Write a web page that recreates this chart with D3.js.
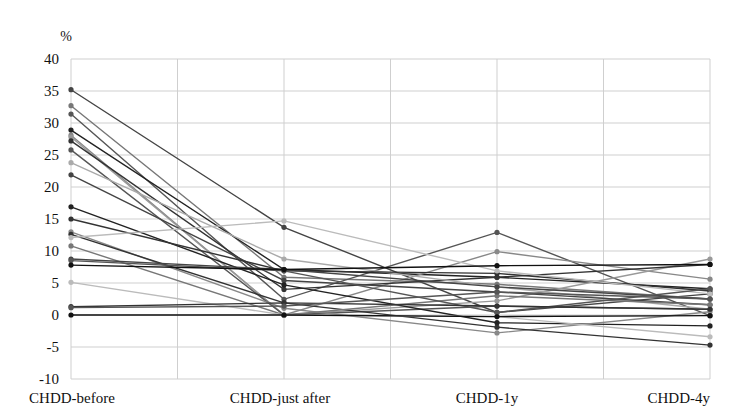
<!DOCTYPE html>
<html>
<head>
<meta charset="utf-8">
<script src="https://cdn.jsdelivr.net/npm/d3@7"></script>
<style>
  html, body { margin: 0; padding: 0; background: #fff; }
  text { font-family: "Liberation Serif", "DejaVu Serif", serif; }
</style>
</head>
<body>
<div id="chart"></div>
<script>
// categories and tick labels
const categories = ["CHDD-before", "CHDD-just after", "CHDD-1y", "CHDD-4y"];
const yTicks = [-10, -5, 0, 5, 10, 15, 20, 25, 30, 35, 40];

// one value per category for each patient line
const s01 = [35.2, 13.7, 0.4, 3.3];
const s02 = [32.7, 5.9, 4.8, 2.5];
const s03 = [31.4, 2.45, 12.9, -0.1];
const s04 = [28.9, 7.1, 5.9, 4.1];
const s05 = [28.1, 0, 9.9, 5.6];
const s06 = [27.8, 0, 2.2, 8.75];
const s07 = [27.2, 4.0, 5.9, 7.9];
const s08 = [25.8, 0, 1.4, 0.9];
const s09 = [23.8, 8.75, 4.4, 0.9];
const s10 = [21.9, 5.4, 3.6, 1.6];
const s11 = [16.9, 4.7, -1.2, -1.7];
const s12 = [15.0, 6.9, 6.5, 3.75];
const s13 = [13.0, 1.05, -2.8, 0.5];
const s14 = [12.6, 1.9, -1.9, -4.7];
const s15 = [12.1, 14.7, 6.9, 3.3];
const s16 = [10.8, 0, 3.0, 1.6];
const s17 = [8.75, 7.1, 4.4, 2.5];
const s18 = [8.5, 6.9, 0.4, 4.1];
const s19 = [7.8, 7.1, 7.7, 7.9];
const s20 = [5.1, 0, -0.25, -3.4];
const s21 = [1.3, 1.9, 1.4, 0.9];
const s22 = [1.15, 1.4, 3.6, 2.5];
const s23 = [0, 0, -0.25, -0.1];

const seriesValues = [s01, s02, s03, s04, s05, s06, s07, s08, s09, s10, s11, s12,
  s13, s14, s15, s16, s17, s18, s19, s20, s21, s22, s23];
const seriesColors = ["#444", "#777", "#555", "#222", "#888", "#999", "#333", "#555",
  "#aaa", "#444", "#222", "#333", "#888", "#333", "#bbb", "#777", "#444", "#555",
  "#111", "#bbb", "#333", "#555", "#111"];

const width = 750, height = 420;
const plot = {left: 71, right: 710, top: 59, bottom: 379};

const svg = d3.select("#chart").append("svg")
  .attr("width", width)
  .attr("height", height);

const x = d3.scalePoint()
  .domain(categories)
  .range([plot.left, plot.right]);

const y = d3.scaleLinear()
  .domain([-10, 40])
  .range([plot.bottom, plot.top]);

// grid: horizontal lines at ticks
svg.append("g")
  .selectAll("line")
  .data(yTicks)
  .join("line")
  .attr("x1", plot.left)
  .attr("x2", plot.right)
  .attr("y1", d => y(d))
  .attr("y2", d => y(d))
  .attr("stroke", "#cfcfcf")
  .attr("stroke-width", 1);

// vertical lines at each category and half way between
const step = x.step();
const vGrid = d3.range(0, categories.length * 2 - 1).map(i => plot.left + i * step / 2);
svg.append("g")
  .selectAll("line")
  .data(vGrid)
  .join("line")
  .attr("x1", d => d)
  .attr("x2", d => d)
  .attr("y1", y(40))
  .attr("y2", y(-10))
  .attr("stroke", "#cfcfcf")
  .attr("stroke-width", 1);

// y tick labels
svg.append("g")
  .selectAll("text")
  .data(yTicks)
  .join("text")
  .attr("x", plot.left - 12)
  .attr("y", d => y(d))
  .attr("dy", "0.35em")
  .attr("text-anchor", "end")
  .style("font-size", "15px")
  .attr("fill", "#111")
  .text(d => d);

svg.append("text")
  .attr("x", 66)
  .attr("y", 41)
  .attr("text-anchor", "middle")
  .style("font-size", "14px")
  .attr("fill", "#111")
  .text("%");

// x labels (Excel shifts the inner ones a little)
const labelShift = [1, -4, -10, 0];
svg.append("g")
  .selectAll("text")
  .data(categories)
  .join("text")
  .attr("x", (d, i) => x(d) + labelShift[i])
  .attr("y", 403)
  .attr("text-anchor", (d, i) => i === categories.length - 1 ? "end" : "middle")
  .style("font-size", "15px")
  .attr("fill", "#111")
  .text(d => d);

// lines
const line = d3.line()
  .x((d, i) => x(categories[i]))
  .y(d => y(d));

const g = svg.append("g");
seriesValues.forEach((vals, k) => {
  g.append("path")
    .datum(vals)
    .attr("fill", "none")
    .attr("stroke", seriesColors[k])
    .attr("stroke-width", 1.4)
    .attr("d", line);
  g.append("g")
    .selectAll("circle")
    .data(vals)
    .join("circle")
    .attr("cx", (d, i) => x(categories[i]))
    .attr("cy", d => y(d))
    .attr("r", 2.6)
    .attr("fill", seriesColors[k]);
});
</script>
</body>
</html>
